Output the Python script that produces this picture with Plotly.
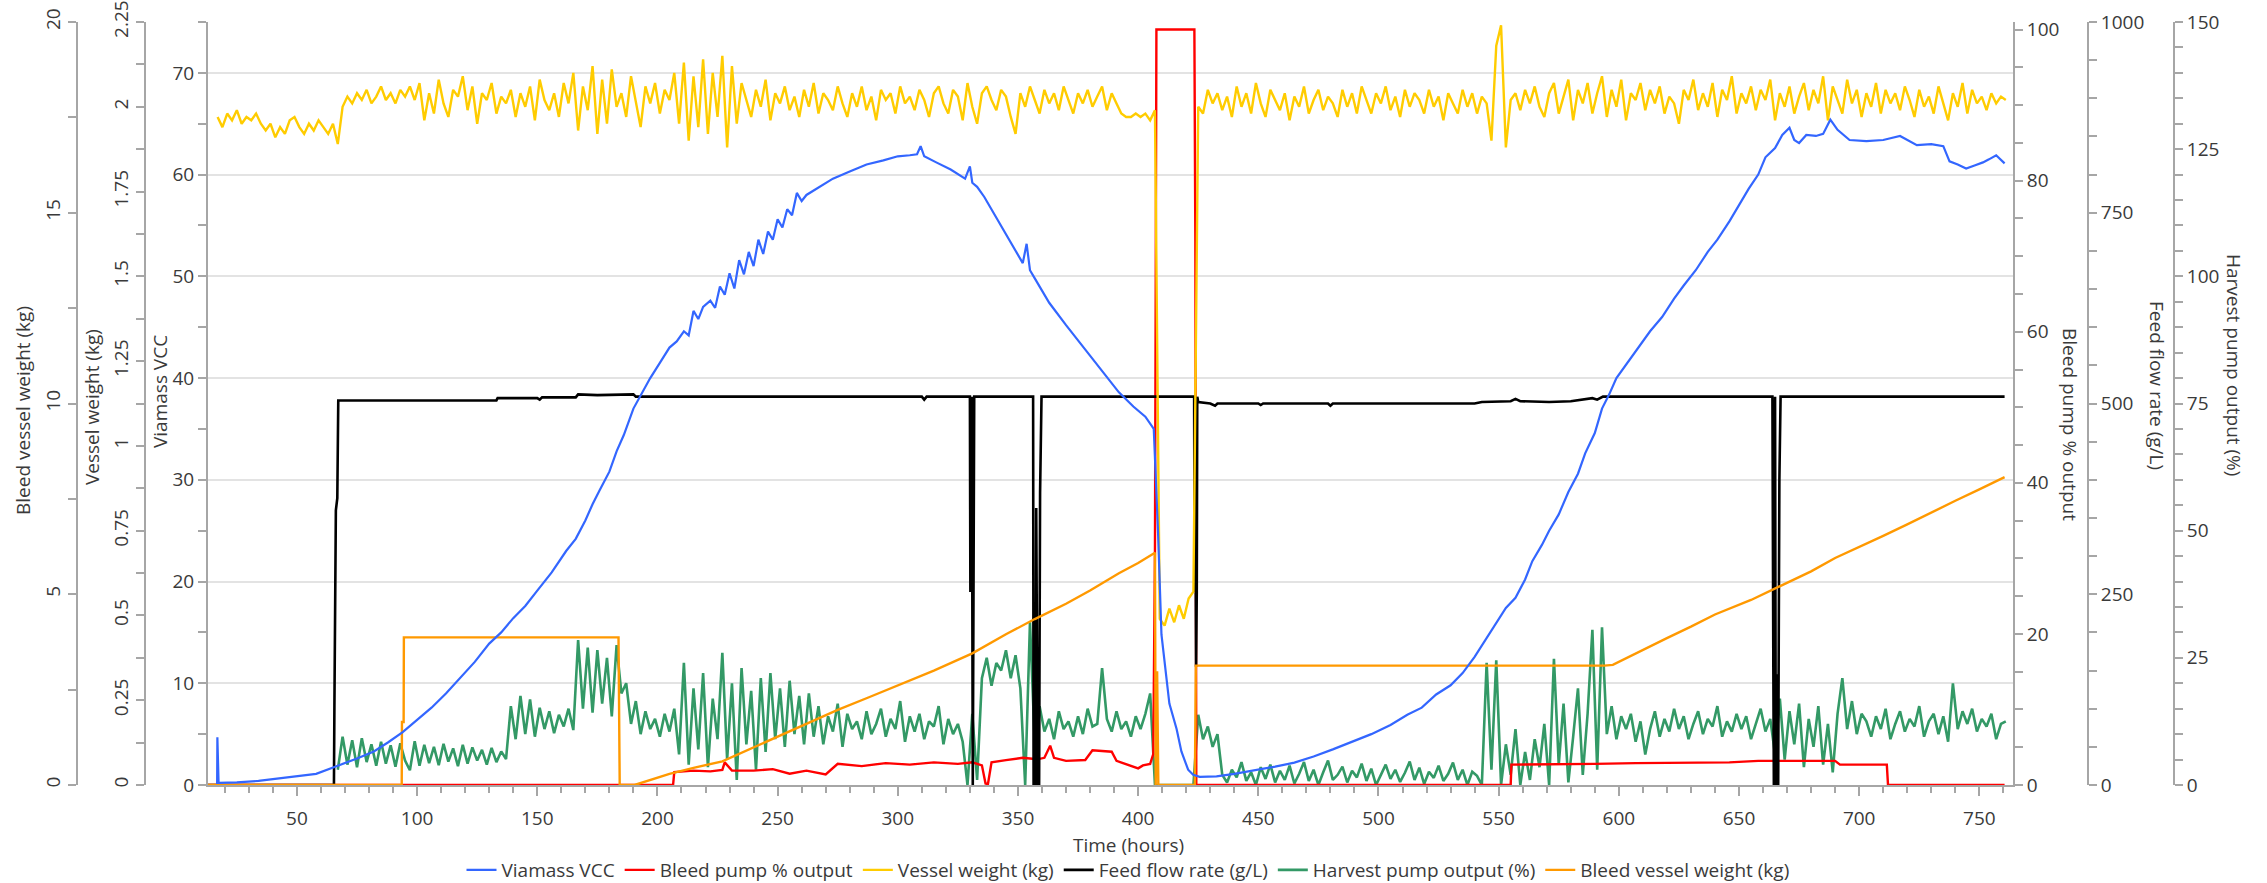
import plotly.graph_objects as go

# ---------------- data ----------------
# Viamass VCC (left inner axis), (hour, value)
VCC_POINTS = [
    (16.8, 0.1), (16.9, 4.7), (17.4, 0.2), (25, 0.25), (34, 0.4), (45, 0.7), (58, 1.1), (67, 1.9),
    (75, 2.6), (82, 3.3), (88, 4.2), (94, 5.2), (100, 6.4), (106, 7.6), (112, 9.0), (118, 10.6),
    (124, 12.1), (130, 13.9), (135, 15.0), (140, 16.4), (145, 17.6), (150, 19.1), (156, 20.9),
    (162, 23.0), (166, 24.2), (170, 26.0), (173, 27.6), (176, 29.0), (180, 30.8), (183, 32.8),
    (186, 34.4), (190, 37.0), (194, 38.8), (197, 40.0), (201, 41.5), (205, 43.0), (208, 43.6),
    (211, 44.6), (213, 44.2), (215, 46.6), (217, 45.8), (219, 47.0), (222, 47.6), (224, 46.9),
    (226, 49.0), (228, 48.2), (230, 50.3), (232, 48.8), (234, 51.6), (236, 50.2), (238, 52.4),
    (240, 51.0), (242, 53.6), (244, 52.2), (246, 54.4), (248, 53.6), (250, 55.6), (252, 54.8),
    (254, 56.6), (256, 56.0), (258, 58.2), (260, 57.4), (262, 58.0), (266, 58.6), (273, 59.6),
    (280, 60.3), (287, 61.0), (294, 61.4), (300, 61.8), (305, 61.9), (308, 62.0), (309.5, 62.8),
    (311, 61.8), (316, 61.2), (322, 60.5), (328, 59.6), (330, 60.8), (331, 59.2), (333, 58.8),
    (336, 57.8), (342, 55.4), (349, 52.6), (352, 51.3), (353.6, 53.2), (355, 50.6), (357, 49.8),
    (360, 48.6), (363, 47.4), (370, 45.2), (377, 43.1), (385, 40.6), (392, 38.6), (398, 37.2),
    (403, 36.2), (406.5, 35.0), (408.3, 24.7), (409.7, 14.8), (411.8, 10.6), (413, 8.0),
    (416, 5.5), (418, 3.3), (420.8, 1.5), (422.9, 1.0), (425.6, 0.8), (432.6, 0.85), (440, 1.1),
    (448, 1.4), (457, 1.8), (465, 2.2), (473, 2.8), (481, 3.5), (490, 4.3), (497, 5.0), (505, 5.9),
    (512, 6.9), (518, 7.6), (524, 8.9), (530, 9.8), (535, 11.0), (540, 12.6), (545, 14.4),
    (549, 15.9), (553, 17.4), (557, 18.4), (561, 20.2), (564, 22.0), (568, 23.6), (571, 25.0),
    (575, 26.6), (579, 28.8), (583, 30.6), (586, 32.6), (590, 34.6), (593, 37.0), (596, 38.4),
    (599, 40.0), (604, 41.6), (609, 43.2), (613, 44.6), (618, 46.0), (623, 47.8), (627, 49.1),
    (632, 50.6), (637, 52.4), (641, 53.6), (646, 55.4), (650, 57.0), (654, 58.6), (658, 60.0),
    (661, 61.7), (665, 62.6), (668, 63.9), (671, 64.6), (673, 63.4), (675, 63.1), (678, 63.9),
    (682, 63.8), (685, 64.0), (688, 65.4), (691, 64.4), (696, 63.4), (703, 63.3), (710, 63.4),
    (717, 63.8), (724, 62.9), (730, 63.0), (735, 62.8), (737.6, 61.3), (741, 61.0), (744.5, 60.6),
    (748, 60.9), (751.5, 61.2), (754, 61.5), (757, 61.9), (760.5, 61.1),
]

# Bleed pump % output, (hour, %)
BLEED_PUMP_POINTS = [
    (13, 0), (206.5, 0), (207, 1.7), (215, 1.9), (222, 1.8), (227, 2.0), (228, 3.0), (231, 1.9),
    (240, 1.9), (248, 2.1), (255, 1.5), (262, 1.9), (270, 1.4), (275, 2.8), (285, 2.5), (295, 2.9),
    (305, 2.7), (315, 3.0), (325, 2.8), (331, 3.0), (335, 2.6), (336.5, 0.2), (337.5, 0.1),
    (339, 3.0), (345, 3.3), (352, 3.6), (358, 3.4), (361, 3.6), (363.4, 5.2), (365, 3.6),
    (370, 3.2), (378, 3.3), (381, 4.6), (389, 4.4), (391, 3.2), (396, 2.6), (400, 2.2), (402, 2.6),
    (405, 2.8), (406.3, 4.1), (407, 31), (407.3, 65), (407.6, 100), (423.4, 100), (423.8, 72),
    (424.2, 0), (555, 0), (555.3, 2.7), (575, 2.7), (590, 2.8), (607, 2.9), (630, 2.9), (646, 3.0),
    (658, 3.2), (690, 3.2), (692, 2.7), (711.5, 2.7), (712, 0), (760.5, 0),
]

# Vessel weight (kg), sampled every 2 h from 17 h
VESSEL_T0, VESSEL_STEP = 17, 2
VESSEL_WEIGHT = [
    1.97, 1.94, 1.98, 1.96, 1.99, 1.95, 1.97, 1.96, 1.98, 1.95,
    1.93, 1.95, 1.91, 1.94, 1.92, 1.96, 1.97, 1.94, 1.92, 1.95,
    1.93, 1.96, 1.94, 1.92, 1.95, 1.89, 2.00, 2.03, 2.01, 2.04,
    2.02, 2.05, 2.01, 2.03, 2.06, 2.02, 2.04, 2.01, 2.05, 2.03,
    2.06, 2.02, 2.07, 1.96, 2.04, 1.98, 2.08, 2.01, 1.97, 2.05,
    2.03, 2.09, 1.99, 2.06, 1.95, 2.04, 2.02, 2.07, 1.98, 2.03,
    2.01, 2.05, 1.97, 2.04, 2.00, 2.06, 1.96, 2.08, 2.02, 1.99,
    2.04, 1.97, 2.07, 2.01, 2.10, 1.93, 2.06, 1.99, 2.12, 1.92,
    2.08, 1.95, 2.11, 2.00, 2.04, 1.97, 2.09, 2.02, 1.94, 2.06,
    2.01, 2.07, 1.98, 2.05, 2.02, 2.10, 1.95, 2.13, 1.90, 2.09,
    1.94, 2.14, 1.92, 2.10, 1.97, 2.15, 1.88, 2.12, 1.95, 2.07,
    2.02, 1.97, 2.05, 2.00, 2.08, 1.96, 2.04, 2.01, 2.06, 1.99,
    2.03, 1.97, 2.05, 2.00, 2.07, 1.98, 2.04, 2.02, 1.99, 2.06,
    2.01, 1.97, 2.04, 2.00, 2.06, 1.99, 2.03, 1.96, 2.05, 2.02,
    2.04, 1.98, 2.06, 2.01, 2.03, 1.99, 2.05, 2.02, 1.97, 2.04,
    2.06, 2.01, 1.98, 2.05, 2.03, 1.96, 2.07, 2.00, 1.95, 2.04,
    2.06, 2.02, 1.99, 2.05, 2.03, 1.97, 1.92, 2.04, 2.00, 2.06,
    2.02, 1.98, 2.05, 2.01, 2.04, 1.99, 2.06, 2.02, 1.98, 2.04,
    2.01, 2.05, 2.00, 2.03, 2.06, 1.99, 2.04, 2.01, 1.98, 1.97,
    1.97, 1.98, 1.97, 1.98, 1.96, 1.99, 0.49, 0.47, 0.52, 0.48,
    0.53, 0.49, 0.55, 0.57, 2.00, 1.98, 2.05, 2.01, 2.04, 1.99,
    2.03, 1.97, 2.06, 2.00, 2.04, 1.98, 2.07, 2.01, 1.97, 2.05,
    2.02, 1.99, 2.04, 1.96, 2.03, 2.00, 2.06, 1.98, 2.02, 2.05,
    1.99, 2.03, 2.01, 1.97, 2.05, 2.00, 2.04, 1.98, 2.06, 2.02,
    1.98, 2.04, 2.01, 2.06, 1.99, 2.03, 1.97, 2.05, 2.00, 2.04,
    2.02, 1.98, 2.05, 2.00, 2.03, 1.96, 2.04, 2.01, 1.98, 2.05,
    2.00, 2.04, 1.98, 2.03, 2.01, 1.90, 2.18, 2.24, 1.88, 2.02,
    2.04, 1.99, 2.05, 2.01, 2.06, 2.00, 1.97, 2.04, 2.07, 1.98,
    2.03, 2.08, 1.96, 2.05, 2.01, 2.07, 1.98, 2.04, 2.09, 1.97,
    2.05, 2.00, 2.08, 1.96, 2.04, 2.02, 2.07, 1.99, 2.05, 2.01,
    2.06, 1.98, 2.03, 2.01, 1.95, 2.05, 2.02, 2.08, 1.99, 2.04,
    2.00, 2.07, 1.97, 2.05, 2.02, 2.09, 1.98, 2.04, 2.01, 2.06,
    1.99, 2.05, 2.02, 2.08, 1.96, 2.04, 2.00, 2.06, 1.98, 2.03,
    2.07, 1.99, 2.05, 2.01, 2.09, 1.96, 2.06, 2.02, 1.98, 2.08,
    2.01, 2.05, 1.97, 2.04, 2.00, 2.07, 1.98, 2.05, 2.01, 2.04,
    1.99, 2.06, 2.02, 1.97, 2.05, 2.00, 2.03, 1.98, 2.06, 2.01,
    1.96, 2.04, 2.00, 2.07, 1.98, 2.05, 2.01, 2.03, 1.99, 2.04,
    2.01, 2.03, 2.02,
]

# Feed flow rate (g/L), (hour, value)
FEED_POINTS = [
    (13, 0), (65.4, 0), (65.6, 105), (66.2, 360), (66.8, 376), (67.2, 504), (133, 504),
    (133.5, 507), (150, 507), (151, 505), (152, 508), (166, 508), (167, 512), (175, 511),
    (190, 512), (191, 509), (310, 509), (311, 505), (312, 509), (330, 509), (330.2, 253),
    (330.4, 509), (330.6, 253), (330.8, 509), (331, 253), (331.2, 0), (331.5, 253), (331.8, 509),
    (356.3, 509), (356.5, 0), (357.3, 0), (357.6, 363), (358.2, 0), (358.8, 0), (359.2, 383),
    (359.8, 509), (423.3, 509), (423.5, 253), (423.7, 509), (423.9, 253), (424.1, 155),
    (424.4, 253), (424.6, 509), (425, 502), (430, 500), (432, 497), (433, 500), (450, 500),
    (451, 498), (452, 500), (479, 500), (480, 497), (481, 500), (540, 500), (543, 502), (555, 503),
    (557, 506), (559, 503), (571, 502), (580, 503), (585, 505), (589, 507), (591, 505),
    (593.4, 509), (663.9, 509), (664.1, 400), (664.3, 145), (664.5, 0), (665, 509), (665.3, 0),
    (665.8, 145), (666.3, 0), (666.8, 400), (667.3, 509), (760.5, 509),
]

# Harvest pump output (%), sampled every 2 h from 67 h
HARVEST_T0, HARVEST_STEP = 67, 2
HARVEST = [
    3.0, 9.5, 4.0, 8.8, 3.5, 9.2, 4.5, 8.0, 3.8, 8.5,
    4.2, 7.8, 3.6, 8.2, 4.8, 2.9, 8.6, 3.8, 7.9, 4.3,
    7.5, 3.9, 8.1, 4.6, 7.2, 3.7, 7.9, 4.2, 7.4, 4.8,
    6.9, 4.0, 7.3, 4.5, 6.6, 5.1, 15.5, 9.0, 17.5, 10.0,
    16.8, 9.5, 15.2, 11.0, 14.5, 10.2, 13.8, 11.5, 15.0, 10.8,
    28.5, 15.0, 27.0, 14.2, 26.5, 16.0, 25.0, 13.5, 27.5, 18.0,
    20.0, 12.0, 16.5, 10.0, 14.5, 11.0, 13.0, 9.5, 14.0, 10.5,
    15.0, 6.0, 24.0, 4.0, 19.0, 7.0, 22.0, 3.5, 17.0, 9.0,
    26.0, 5.0, 20.0, 1.0, 23.0, 8.0, 18.5, 3.0, 21.0, 6.5,
    22.0, 9.0, 19.0, 7.5, 20.5, 10.0, 17.5, 8.0, 18.0, 9.5,
    15.5, 8.0, 13.5, 10.5, 16.0, 7.5, 14.0, 11.0, 12.5, 9.0,
    14.5, 10.0, 12.0, 15.0, 9.5, 13.0, 11.0, 16.5, 8.5, 13.5,
    10.5, 14.0, 9.0, 12.5, 11.5, 15.5, 8.0, 13.0, 10.0, 12.0,
    8.5, 0.0, 14.0, 1.0, 21.0, 25.0, 19.5, 24.0, 22.5, 26.5,
    21.0, 25.5, 19.0, 0.0, 32.0, 8.0, 15.5, 10.5, 13.0, 9.0,
    14.5, 11.0, 12.5, 9.5, 13.5, 10.0, 15.0, 11.5, 12.0, 23.0,
    13.0, 10.5, 14.5, 11.0, 12.5, 9.5, 13.5, 11.0, 14.0, 18.0,
    0.0, 0.0, 0.0, 0.0, 0.0, 0.0, 0.0, 0.0, 0.0, 13.8,
    9.0, 11.5, 7.5, 10.0, 2.0, 0.5, 3.0, 1.5, 4.5, 0.8,
    2.5, 0.0, 3.5, 1.2, 4.0, 0.5, 2.8, 1.0, 3.8, 0.3,
    2.2, 4.5, 0.8, 3.0, 0.0, 2.5, 4.8, 1.0, 2.0, 3.6,
    0.5, 2.8, 1.5, 4.2, 0.8, 3.2, 0.0, 2.0, 4.0, 1.2,
    3.0, 0.6, 2.4, 4.6, 1.0, 3.4, 0.2, 2.6, 1.4, 3.8,
    0.8, 2.2, 4.4, 1.0, 3.0, 0.0, 2.6, 1.8, 0.0, 24.0,
    3.0, 24.5, 0.0, 8.0, 2.0, 11.0, 0.0, 6.5, 1.0, 9.0,
    3.5, 12.0, 0.0, 24.8, 4.0, 16.0, 0.5, 9.5, 19.0, 2.0,
    14.0, 30.5, 3.0, 31.0, 10.0, 15.5, 9.0, 13.5, 11.0, 14.0,
    8.5, 12.5, 6.0, 11.0, 14.5, 9.5, 13.0, 10.5, 15.0, 11.0,
    13.5, 9.0, 12.0, 14.5, 10.0, 13.0, 11.5, 15.5, 9.5, 12.5,
    10.5, 14.0, 11.0, 13.5, 9.0, 12.0, 15.0, 10.5, 13.0, 6.0,
    17.0, 5.0, 14.5, 8.0, 16.0, 3.5, 13.0, 7.5, 15.5, 4.0,
    12.0, 2.5, 14.0, 21.0, 11.0, 16.5, 10.0, 14.0, 12.5, 9.5,
    13.5, 11.0, 15.0, 9.0, 12.0, 14.5, 10.5, 13.0, 11.5, 15.5,
    9.5, 12.5, 14.0, 10.0, 13.5, 8.5, 20.0, 11.0, 14.5, 12.0,
    15.0, 10.5, 13.0, 11.5, 14.0, 9.0, 12.0, 12.5,
]

# Bleed vessel weight (kg), (hour, value)
BLEED_VESSEL_POINTS = [
    (13, 0), (93.6, 0), (93.7, 1.65), (94.4, 1.65), (94.5, 3.87), (183.8, 3.87), (184.3, 0),
    (190.5, 0), (205, 0.29), (215, 0.45), (227, 0.62), (240, 0.98), (251, 1.3), (263, 1.63),
    (275, 1.97), (288, 2.3), (300, 2.62), (315, 3.0), (331, 3.45), (345, 3.95), (357, 4.35),
    (370, 4.75), (380, 5.1), (392, 5.55), (400, 5.82), (407, 6.09), (407.3, 0), (407.9, 2.98),
    (408.4, 0), (423.6, 0), (424, 3.13), (594, 3.13), (597.5, 3.15), (610, 3.55), (620, 3.85),
    (630, 4.15), (640, 4.47), (655, 4.85), (667, 5.2), (680, 5.6), (690, 5.95), (700, 6.23),
    (710, 6.53), (720, 6.83), (730, 7.15), (740, 7.45), (750, 7.75), (760.5, 8.07),
]

X_RANGE = [13, 764]
X_TICKS = [50, 100, 150, 200, 250, 300, 350, 400, 450, 500, 550, 600, 650, 700, 750]

# ---------------- layout geometry (pixels of the 2267x883 page) ----------------
W, H = 2267, 883
PL, PR, PT, PB = 208, 2013, 22, 785
FONT = "Open Sans, Noto Sans, sans-serif"
TXT = "#3a3a3a"
AX = "#a6a6a6"


def fx(p):
    return p / W


def fy(p):
    return 1 - p / H


def unzip(points):
    return [p[0] for p in points], [p[1] for p in points]


vcc_t, vcc_v = unzip(VCC_POINTS)
bp_t, bp_v = unzip(BLEED_PUMP_POINTS)
fd_t, fd_v = unzip(FEED_POINTS)
bv_t, bv_v = unzip(BLEED_VESSEL_POINTS)
vw_t = [VESSEL_T0 + i * VESSEL_STEP for i in range(len(VESSEL_WEIGHT))]
hp_t = [HARVEST_T0 + i * HARVEST_STEP for i in range(len(HARVEST))]

fig = go.Figure()
# legend order; drawing order is set by the axis each trace lives on
fig.add_trace(go.Scatter(x=vcc_t, y=vcc_v, name="Viamass VCC", mode="lines",
                         line=dict(color="#3366ff", width=2.2), yaxis="y6"))
fig.add_trace(go.Scatter(x=bp_t, y=bp_v, name="Bleed pump % output", mode="lines",
                         line=dict(color="#ff0000", width=2.4), yaxis="y2"))
fig.add_trace(go.Scatter(x=vw_t, y=VESSEL_WEIGHT, name="Vessel weight (kg)", mode="lines",
                         line=dict(color="#ffcc00", width=2.4), yaxis="y5"))
fig.add_trace(go.Scatter(x=fd_t, y=fd_v, name="Feed flow rate (g/L)", mode="lines",
                         line=dict(color="#000000", width=2.6), yaxis="y3"))
fig.add_trace(go.Scatter(x=hp_t, y=HARVEST, name="Harvest pump output (%)", mode="lines",
                         line=dict(color="#339966", width=2.6), yaxis="y"))
fig.add_trace(go.Scatter(x=bv_t, y=bv_v, name="Bleed vessel weight (kg)", mode="lines",
                         line=dict(color="#ff9900", width=2.4), yaxis="y4"))

dom = [fy(PB), fy(PT)]


def yax(rng, dtick, minor, **kw):
    d = dict(domain=dom, range=rng, dtick=dtick, tick0=0, showline=True, linecolor=AX,
             linewidth=2, ticks="outside", ticklen=8, tickwidth=1.5, tickcolor=AX,
             minor=dict(dtick=minor, tick0=0, ticks="outside", ticklen=8, tickwidth=1.5,
                        tickcolor=AX, showgrid=False),
             showgrid=False, zeroline=False, fixedrange=True, automargin=False,
             tickfont=dict(family=FONT, size=19, color=TXT))
    d.update(kw)
    return d


fig.update_layout(
    template="none",
    width=W, height=H,
    margin=dict(l=0, r=0, t=0, b=0, pad=0, autoexpand=False),
    paper_bgcolor="white", plot_bgcolor="white",
    font=dict(family=FONT, size=19, color=TXT),
    showlegend=True,
    legend=dict(orientation="h", x=fx(1128), xanchor="center", y=fy(870), yanchor="middle",
                font=dict(family=FONT, size=19, color=TXT), bgcolor="rgba(0,0,0,0)",
                itemwidth=30, tracegroupgap=0),
    xaxis=dict(domain=[fx(PL), fx(PR)], range=X_RANGE, anchor="y", tickvals=X_TICKS,
               showline=True, linecolor=AX, linewidth=2, ticks="outside", ticklen=9,
               tickwidth=1.5, tickcolor=AX, showgrid=False, zeroline=False, automargin=False,
               minor=dict(dtick=10, tick0=0, ticks="outside", ticklen=6, tickwidth=1.5,
                          tickcolor=AX, showgrid=False),
               tickfont=dict(family=FONT, size=19, color=TXT), ticklabelstandoff=6),
    # harvest pump output (right, outermost) - bottom drawing layer
    yaxis=yax([0, 150], 25, 5, side="right", anchor="free", position=fx(2174)),
    # bleed pump % output (right, at the plot edge)
    yaxis2=yax([0, 101], 20, 5, side="right", anchor="x", overlaying="y"),
    # feed flow rate (right, middle)
    yaxis3=yax([0, 1000], 250, 50, side="right", anchor="free", position=fx(2088),
               overlaying="y"),
    # bleed vessel weight (left, outermost)
    yaxis4=yax([0, 20], 5, 2.5, side="left", anchor="free", position=fx(77), overlaying="y",
               tickangle=-90),
    # vessel weight (left, middle)
    yaxis5=yax([0, 2.25], 0.25, 0.125, side="left", anchor="free", position=fx(145),
               overlaying="y", tickangle=-90),
    # Viamass VCC (left, at the plot edge) - top drawing layer, carries the grid
    yaxis6=yax([0, 75], 10, 5, side="left", anchor="x", overlaying="y", showgrid=True,
               gridcolor="#e3e3e3", gridwidth=1.5),
)

titles = [
    ("Bleed vessel weight (kg)", 23, 411, -90),
    ("Vessel weight (kg)", 92, 407, -90),
    ("Viamass VCC", 160, 392, -90),
    ("Bleed pump % output", 2070, 424, 90),
    ("Feed flow rate (g/L)", 2157, 385, 90),
    ("Harvest pump output (%)", 2234, 365, 90),
    ("Time (hours)", 1128, 845, 0),
]
for text, px, py, ang in titles:
    fig.add_annotation(text=text, x=fx(px), y=fy(py), xref="paper", yref="paper",
                       showarrow=False, textangle=ang, xanchor="center", yanchor="middle",
                       font=dict(family=FONT, size=19, color=TXT))

fig.write_html("out.html")
